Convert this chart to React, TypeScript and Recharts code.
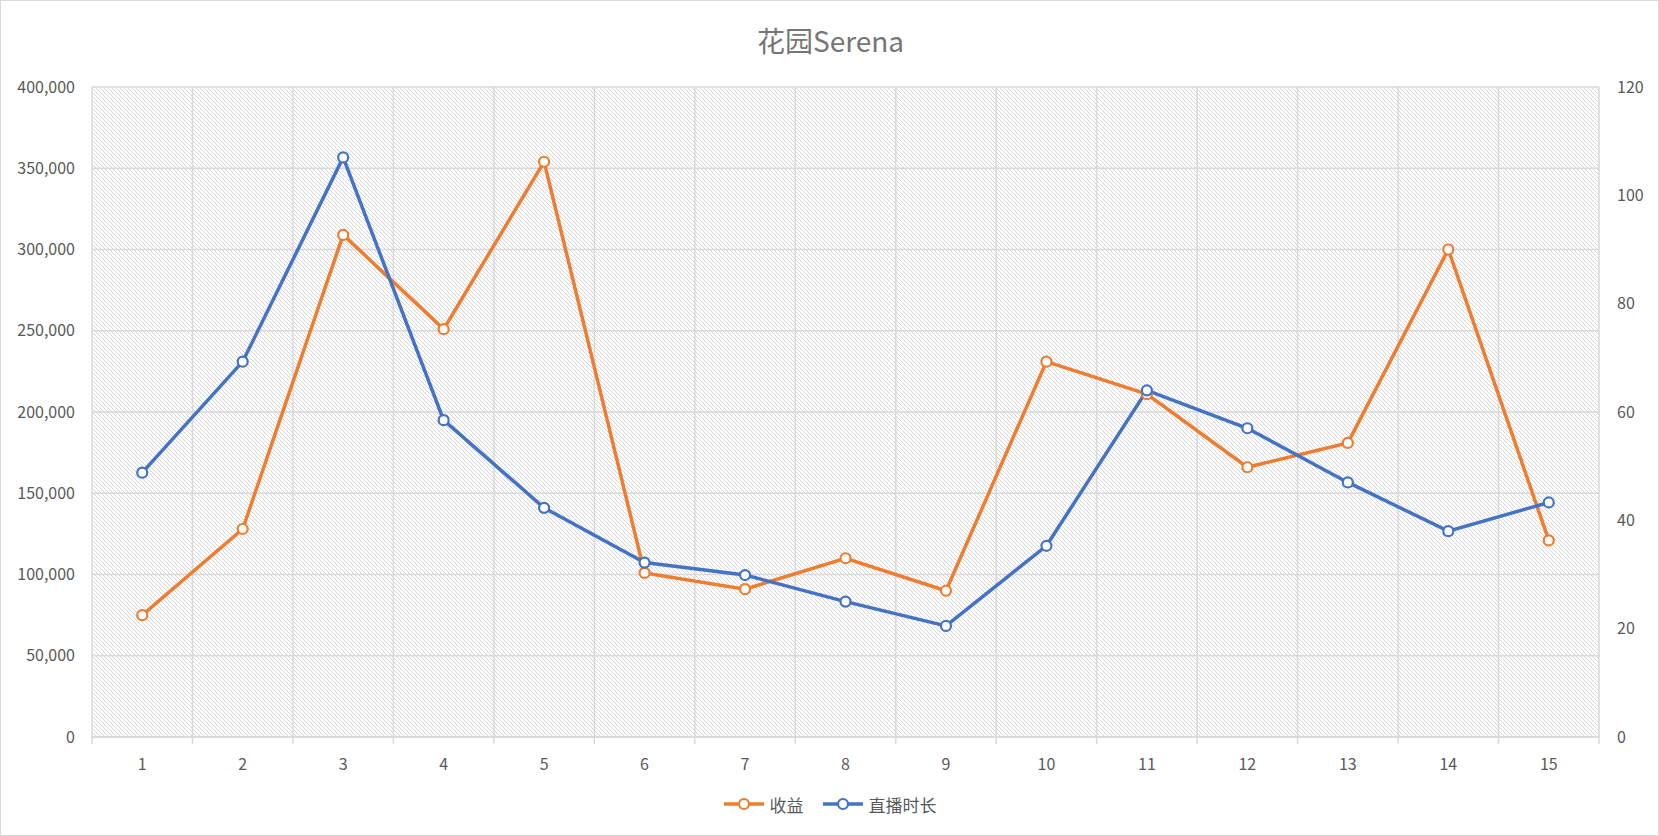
import { LineChart, Line, XAxis, YAxis, CartesianGrid, Legend } from 'recharts'

const categories = [1, 2, 3, 4, 5, 6, 7, 8, 9, 10, 11, 12, 13, 14, 15]
const revenue = [75000, 128000, 309000, 251000, 354000, 101000, 91000, 110000, 90000, 231000, 211000, 166000, 181000, 300000, 121000]
const hours = [48.8, 69.3, 107, 58.5, 42.3, 32.2, 29.9, 25, 20.5, 35.3, 64, 57, 47, 38, 43.3]
const leftTicks = [0, 50000, 100000, 150000, 200000, 250000, 300000, 350000, 400000]
const rightTicks = [0, 20, 40, 60, 80, 100, 120]

const series = [
  { key: 'rev', name: '收益', color: '#ED7D31', axis: 'l' },
  { key: 'hrs', name: '直播时长', color: '#4472C4', axis: 'r' },
]

const data = categories.map((c, i) => ({ x: c, rev: revenue[i], hrs: hours[i] }))
const boundaries = [0, ...categories].map((c) => c + 0.5)

const FONT = "'Noto Sans CJK SC', 'Noto Sans', sans-serif"
const GRID = '#d9d9d9'
const TEXT = '#595959'

function LegendContent() {
  return (
    <div style={{ display: 'flex', justifyContent: 'center', alignItems: 'center', height: 30, gap: 18 }}>
      {series.map((s) => (
        <div key={s.key} style={{ display: 'flex', alignItems: 'center', gap: 5 }}>
          <svg width={42} height={16}>
            <line x1={1} y1={8} x2={41} y2={8} stroke={s.color} strokeWidth={3.5} />
            <circle cx={21} cy={8} r={5} fill="#fff" stroke={s.color} strokeWidth={2.2} />
          </svg>
          <span style={{ fontFamily: FONT, fontSize: 17, color: TEXT }}>{s.name}</span>
        </div>
      ))}
    </div>
  )
}

export default function App() {
  return (
    <div
      style={{
        position: 'absolute',
        left: 0,
        top: 0,
        width: 1659,
        height: 836,
        border: `1px solid ${GRID}`,
        boxSizing: 'border-box',
        background: '#fff',
        fontFamily: FONT,
      }}
    >
      <div
        style={{
          position: 'absolute',
          top: 19,
          left: 0,
          width: 1659,
          textAlign: 'center',
          fontSize: 28,
          lineHeight: '40px',
          color: '#767676',
        }}
      >
        花园Serena
      </div>
      <div style={{ position: 'absolute', left: -1, top: -1 }}>
        <LineChart width={1659} height={836} data={data} margin={{ top: 87, right: 0, bottom: 17, left: 0 }}>
          <defs>
            <pattern id="hatch" width={4} height={4} patternUnits="userSpaceOnUse">
              <rect width={4} height={4} fill="#fff" />
              <path d="M0,0 L4,4 M-1,3 L1,5 M3,-1 L5,1" stroke="#d6d6d6" strokeWidth={1} />
            </pattern>
          </defs>
          <CartesianGrid stroke={GRID} strokeWidth={1.5} fill="url(#hatch)" fillOpacity={1} yAxisId="l" />
          <XAxis
            dataKey="x"
            type="number"
            domain={[0.5, 15.5]}
            ticks={boundaries}
            interval={0}
            tickFormatter={() => ''}
            tickSize={7}
            tickLine={{ stroke: GRID, strokeWidth: 1.5 }}
            axisLine={{ stroke: GRID, strokeWidth: 1.5 }}
            height={7}
          />
          <XAxis
            xAxisId="lbl"
            dataKey="x"
            type="number"
            domain={[0.5, 15.5]}
            ticks={categories}
            interval={0}
            axisLine={false}
            tickLine={false}
            tickSize={0}
            tickMargin={15}
            height={45}
            tick={{ fill: TEXT, fontSize: 16, fontFamily: FONT }}
          />
          <YAxis
            yAxisId="l"
            domain={[0, 400000]}
            ticks={leftTicks}
            tickFormatter={(v: number) => v.toLocaleString('en-US')}
            axisLine={false}
            tickLine={false}
            tickSize={0}
            tickMargin={17}
            width={92}
            tick={{ fill: TEXT, fontSize: 16, fontFamily: FONT }}
          />
          <YAxis
            yAxisId="r"
            orientation="right"
            domain={[0, 120]}
            ticks={rightTicks}
            axisLine={false}
            tickLine={false}
            tickSize={0}
            tickMargin={18}
            width={60}
            tick={{ fill: TEXT, fontSize: 16, fontFamily: FONT }}
          />
          <Legend content={<LegendContent />} wrapperStyle={{ height: 30 }} />
          {series.map((s) => (
            <Line
              key={s.key}
              xAxisId="lbl"
              yAxisId={s.axis}
              type="linear"
              dataKey={s.key}
              name={s.name}
              stroke={s.color}
              strokeWidth={3.5}
              dot={{ r: 5, fill: '#fff', stroke: s.color, strokeWidth: 2.2 }}
              activeDot={false}
              isAnimationActive={false}
            />
          ))}
        </LineChart>
      </div>
    </div>
  )
}
